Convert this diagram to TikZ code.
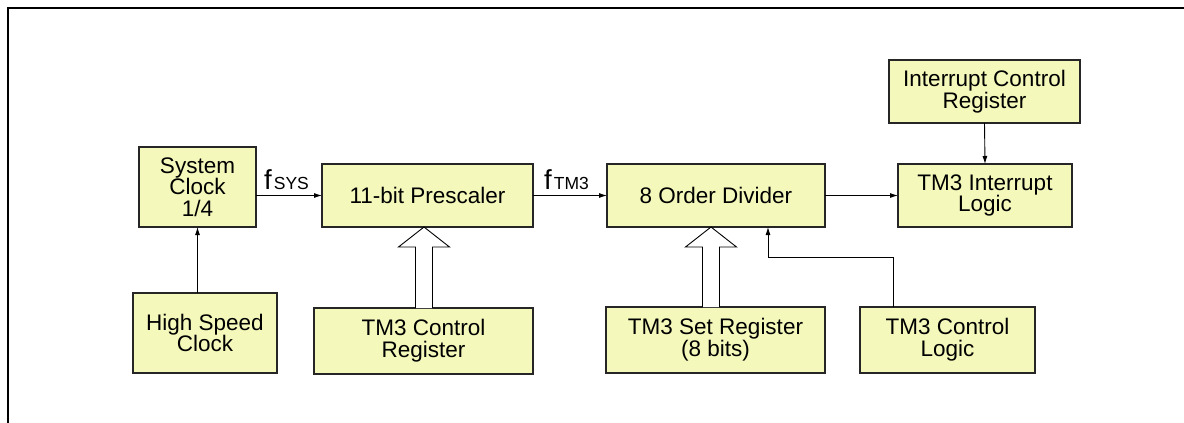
\documentclass[tikz,border=0pt]{standalone}
\usepackage{fontspec}
\setmainfont{Liberation Sans}
\usetikzlibrary{arrows.meta}
\definecolor{boxfill}{RGB}{244,248,187}
\begin{document}
\begin{tikzpicture}[x=1pt,y=-1pt,
  blk/.style={draw=black!85,line width=1.6pt,fill=boxfill,inner sep=0pt,outer sep=0pt,
    align=center,font=\fontsize{22.5}{21.7}\selectfont},
  conn/.style={draw=black,line width=0.9pt,-{Latex[length=8pt,width=5pt]}},
  hollow/.style={draw=black,line width=0.9pt,fill=white}]
\useasboundingbox (0,0) rectangle (1184,423);
\draw[line width=2.2pt] (8,423) -- (8,8) -- (1184,8);
% boxes
\node[blk,minimum width=117pt,minimum height=80pt] (sys) at (197.5,187) {System\\Clock\\1/4};
\node[blk,minimum width=211pt,minimum height=63pt] (pre) at (427.5,195.5) {11-bit Prescaler};
\node[blk,minimum width=144pt,minimum height=80pt] (hsc) at (205,333) {High Speed\\Clock};
\node[blk,minimum width=219pt,minimum height=66pt] (tcr) at (423.5,341) {TM3 Control\\Register};
\node[blk,minimum width=218pt,minimum height=63pt] (div) at (716,195.5) {8 Order Divider};
\node[blk,minimum width=219pt,minimum height=66pt] (tsr) at (715.5,340) {TM3 Set Register\\(8 bits)};
\node[blk,minimum width=175pt,minimum height=66pt] (tcl) at (947.5,340) {TM3 Control\\Logic};
\node[blk,minimum width=174pt,minimum height=63pt] (til) at (985,195.5) {TM3 Interrupt\\Logic};
\node[blk,minimum width=191pt,minimum height=63pt] (icr) at (984.5,91.5) {Interrupt Control\\Register};
% labels
\node[anchor=base west,inner sep=0pt] (fsys) at (264,189.5)
  {{\fontsize{27.5}{27.5}\selectfont f}\hspace{2pt}{\fontsize{17.5}{17.5}\selectfont SYS}};
\node[anchor=base west,inner sep=0pt] (ftm3) at (544,189.5)
  {{\fontsize{27.5}{27.5}\selectfont f}\hspace{2pt}{\fontsize{17.5}{17.5}\selectfont TM3}};
% connectors
\draw[conn] (sys.south |- hsc.north) -- (sys.south);
\draw[conn] (sys.east |- pre.west) -- (pre.west);
\draw[conn] (pre.east) -- (div.west);
\draw[conn] (div.east) -- (til.west);
\draw[conn] (icr.south) -- (til.north);
\draw[conn] ([xshift=33pt]tcl.north west) -- ++(0,-50) -| ([xshift=161pt]div.south west);
% hollow bus arrows
\draw[hollow] ([xshift=-8pt]tcr.north) -- ++(0,-61) -- ++(-17,0) -- ++(25.5,-20) -- ++(25.5,20) -- ++(-17,0) -- ++(0,61);
\draw[hollow] ([xshift=-13pt]tsr.north) -- ++(0,-60) -- ++(-17,0) -- ++(25.5,-20) -- ++(25.5,20) -- ++(-17,0) -- ++(0,60);
\end{tikzpicture}
\end{document}
